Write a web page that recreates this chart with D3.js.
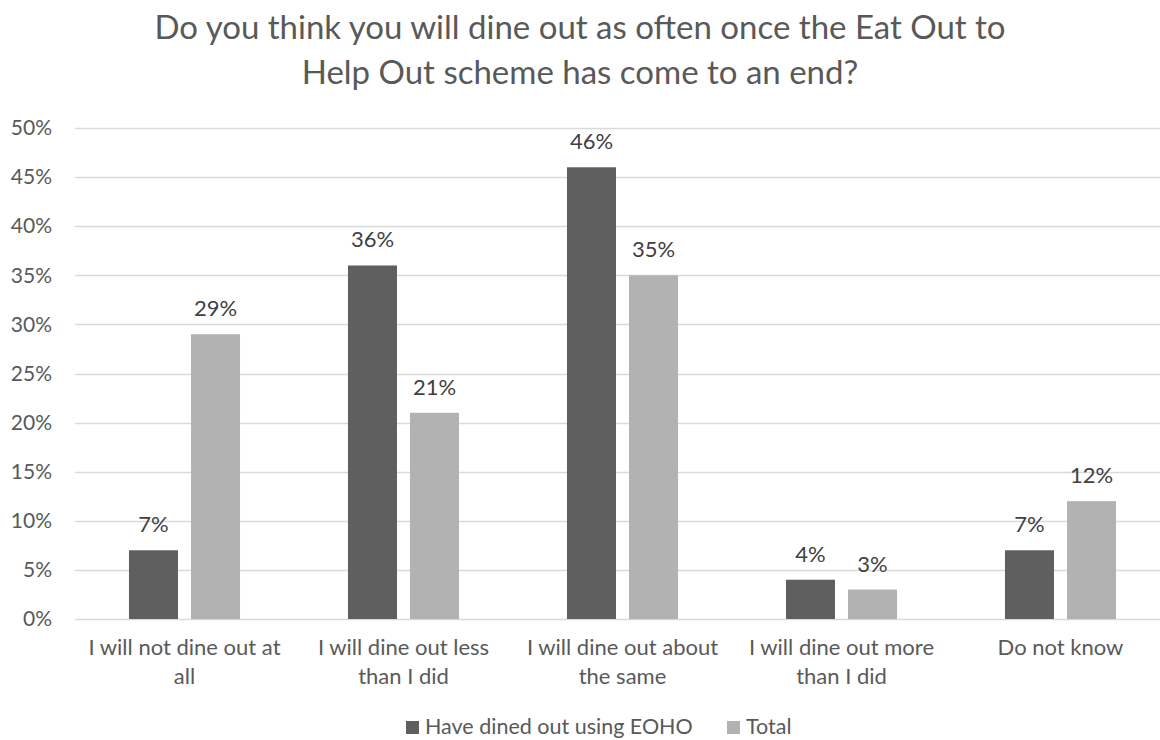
<!DOCTYPE html>
<html>
<head>
<meta charset="utf-8">
<script src="https://cdn.jsdelivr.net/npm/d3@7"></script>
<style>
  body { margin: 0; background: #fff; }
  svg text { font-family: Lato, "Open Sans", sans-serif; }
</style>
</head>
<body>
<script>
const categories = [
  'I will not dine out at all',
  'I will dine out less than I did',
  'I will dine out about the same',
  'I will dine out more than I did',
  'Do not know',
];
const categoryLines = [
  ['I will not dine out at', 'all'],
  ['I will dine out less', 'than I did'],
  ['I will dine out about', 'the same'],
  ['I will dine out more', 'than I did'],
  ['Do not know'],
];
const seriesNames = ['Have dined out using EOHO', 'Total'];
const eohoValues = [0.07, 0.36, 0.46, 0.04, 0.07];
const totalValues = [0.29, 0.21, 0.35, 0.03, 0.12];
const yTicks = [0, 0.05, 0.1, 0.15, 0.2, 0.25, 0.3, 0.35, 0.4, 0.45, 0.5];
const titleLines = [
  'Do you think you will dine out as often once the Eat Out to',
  'Help Out scheme has come to an end?',
];

const W = 1160;
const H = 740;
const colors = ['#5f5f5f', '#b2b2b2'];

const svg = d3.select('body').append('svg')
  .attr('width', W)
  .attr('height', H);

// title
svg.append('g').selectAll('text')
  .data(titleLines)
  .enter().append('text')
  .attr('x', 580)
  .attr('y', (d, i) => 39 + i * 45)
  .attr('text-anchor', 'middle')
  .attr('fill', '#595959')
  .style('font-size', '33px')
  .text(d => d);

const x0 = d3.scaleBand()
  .domain(categories)
  .range([75, 1170]);

const x1 = d3.scaleBand()
  .domain(seriesNames)
  .range([0, x0.bandwidth()])
  .paddingInner(0.21)
  .paddingOuter(0.87);

const y = d3.scaleLinear()
  .domain([0, 0.5])
  .range([619, 128]);

// gridlines
svg.append('g').selectAll('line')
  .data(yTicks)
  .enter().append('line')
  .attr('x1', 75)
  .attr('x2', 1170)
  .attr('y1', d => Math.round(y(d)) + 0.5)
  .attr('y2', d => Math.round(y(d)) + 0.5)
  .attr('stroke', '#d9d9d9')
  .attr('stroke-width', 1.5);

// y axis labels
const yAxis = d3.axisLeft(y)
  .tickValues(yTicks)
  .tickFormat(d3.format('.0%'))
  .tickSize(0)
  .tickPadding(0);

svg.append('g')
  .attr('transform', 'translate(52,0)')
  .call(yAxis)
  .call(g => g.select('.domain').remove())
  .selectAll('text')
  .attr('fill', '#595959')
  .style('font-size', '21px');

const rows = categories.map((c, i) => ({
  cat: c,
  vals: [
    { s: seriesNames[0], v: eohoValues[i] },
    { s: seriesNames[1], v: totalValues[i] },
  ],
}));

const groups = svg.append('g').selectAll('g')
  .data(rows)
  .enter().append('g')
  .attr('transform', d => `translate(${x0(d.cat)},0)`);

groups.selectAll('rect')
  .data(d => d.vals)
  .enter().append('rect')
  .attr('x', d => x1(d.s))
  .attr('y', d => y(d.v))
  .attr('width', x1.bandwidth())
  .attr('height', d => y(0) - y(d.v))
  .attr('fill', (d, i) => colors[i]);

groups.selectAll('text.lbl')
  .data(d => d.vals)
  .enter().append('text')
  .attr('class', 'lbl')
  .attr('x', d => x1(d.s) + x1.bandwidth() / 2)
  .attr('y', d => y(d.v) - 18)
  .attr('text-anchor', 'middle')
  .attr('fill', '#404040')
  .style('font-size', '22px')
  .text(d => d3.format('.0%')(d.v));

// category labels
const xLab = svg.append('g').selectAll('text')
  .data(categories)
  .enter().append('text')
  .attr('x', d => x0(d) + x0.bandwidth() / 2)
  .attr('y', 655)
  .attr('text-anchor', 'middle')
  .attr('fill', '#595959')
  .style('font-size', '22px');

xLab.selectAll('tspan')
  .data((d, i) => categoryLines[i])
  .enter().append('tspan')
  .attr('x', function () { return this.parentNode.getAttribute('x'); })
  .attr('dy', (d, i) => (i === 0 ? 0 : 29))
  .text(d => d);

// legend
const legend = svg.append('g');
const legendPos = [406, 727];
seriesNames.forEach((s, i) => {
  legend.append('rect')
    .attr('x', legendPos[i])
    .attr('y', 721)
    .attr('width', 13)
    .attr('height', 13)
    .attr('fill', colors[i]);
  legend.append('text')
    .attr('x', legendPos[i] + 19)
    .attr('y', 734)
    .attr('fill', '#595959')
    .style('font-size', '21.5px')
    .text(s);
});
</script>
</body>
</html>
